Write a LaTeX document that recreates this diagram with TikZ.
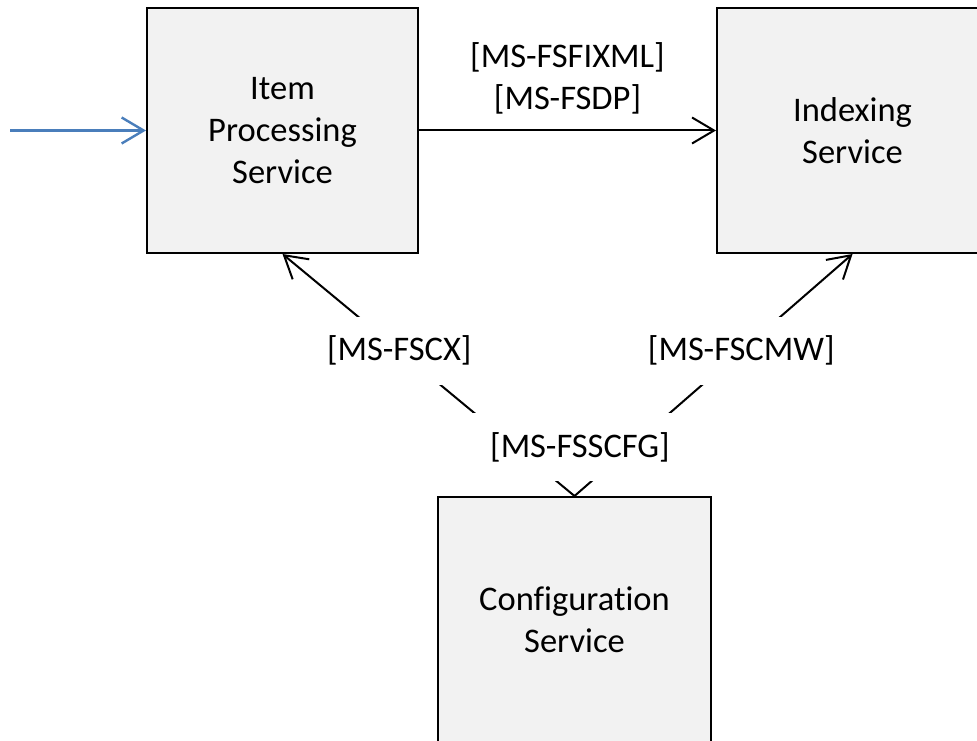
\documentclass[tikz,border=0pt]{standalone}
\usepackage{fontspec}
\setmainfont{Carlito}[Ligatures=NoCommon]
\usetikzlibrary{arrows.meta}
\definecolor{boxgray}{HTML}{F2F2F2}
\definecolor{inblue}{HTML}{4A7EBB}
\begin{document}
\begin{tikzpicture}[x=1pt,y=1pt,
  font=\fontsize{34.5}{42}\selectfont,
  svc/.style={draw,line width=2pt,fill=boxgray,minimum width=271pt,minimum height=245pt,align=center,inner sep=0pt},
  lbl/.style={fill=white,inner sep=19pt},
  arr/.style={line width=2pt,-{Straight Barb[length=22pt,width=26pt]}}]
\useasboundingbox (0,0) rectangle (977,740);
\node[svc] (item) at (282.5,609.5) {Item\\Processing\\Service};
\node[svc] (index) at (852.5,609.5) {Indexing\\Service};
\node[svc,minimum width=273pt] (cfg) at (574.5,120.5) {Configuration\\Service};
\coordinate (in) at (10,609.5);
\draw[arr,inblue,line width=2.4pt] (in) -- (item.west);
\draw[arr] (item.east) -- node[above=12pt,align=center] (fsfixml) {[MS-FSFIXML]\\{}[MS-FSDP]} (index.west);
\draw[arr] (cfg.north) -- node[lbl,pos=.6] (fscx) {[MS-FSCX]} (item.south);
\draw[arr] (cfg.north) -- node[lbl,pos=.6] (fscmw) {[MS-FSCMW]} (index.south);
\node[lbl] (fsscfg) at (580,293) {[MS-FSSCFG]};
\end{tikzpicture}
\end{document}
